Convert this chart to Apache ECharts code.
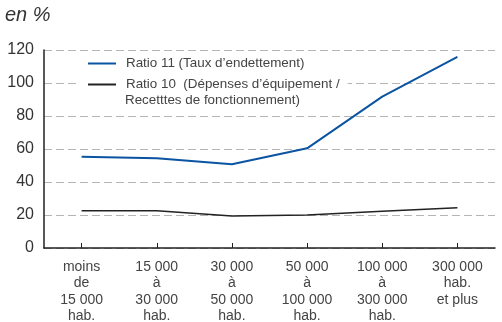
<!DOCTYPE html>
<html>
<head>
<meta charset="utf-8">
<script src="https://cdn.jsdelivr.net/npm/echarts@6/dist/echarts.min.js"></script>
<style>
  html, body { margin: 0; padding: 0; background: #fff; }
  #chart { width: 502px; height: 322px; }
</style>
</head>
<body>
<div id="chart"></div>
<script>
// catégories de communes
const categories = [
  'moins\nde\n15 000\nhab.',
  '15 000\nà\n30 000\nhab.',
  '30 000\nà\n50 000\nhab.',
  '50 000\nà\n100 000\nhab.',
  '100 000\nà\n300 000\nhab.',
  '300 000\nhab.\net plus'
];

// Ratio 11 (Taux d'endettement)
const ratio11 = [55.3, 54.4, 50.7, 60.4, 91.7, 115.9];
// Ratio 10 (Dépenses d'équipement / Recettes de fonctionnement)
const ratio10 = [22.6, 22.6, 19.4, 20.0, 22.2, 24.4];

const yTicks = [0, 20, 40, 60, 80, 100, 120];

const FONT = '"Liberation Sans", Arial, sans-serif';

var myChart = echarts.init(document.getElementById('chart'));
myChart.setOption({
  animation: false,
  textStyle: { fontFamily: FONT },
  title: {
    text: 'en %',
    left: 5,
    top: 5,
    padding: 0,
    textStyle: { fontFamily: FONT, fontStyle: 'italic', fontWeight: 'normal', fontSize: 20, color: '#333' }
  },
  legend: {
    orient: 'vertical',
    left: 80,
    top: 56,
    padding: [1, 8, 18, 7],
    backgroundColor: '#fff',
    itemWidth: 28,
    itemHeight: 14,
    itemGap: 8,
    itemStyle: { opacity: 0 },
    textStyle: { fontFamily: FONT, fontSize: 13.4, color: '#444', padding: [0, 0, 0, 5] },
    data: ['Ratio 11 (Taux d\u2019endettement)', 'Ratio 10  (Dépenses d\u2019équipement /']
  },
  graphic: [{
    type: 'text',
    left: 125,
    top: 94,
    z: 100,
    style: { text: 'Recetttes de fonctionnement)', font: '13.4px ' + FONT, fill: '#444' }
  }],
  grid: { left: 44, right: 7, top: 50, bottom: 74, outerBoundsMode: 'none' },
  xAxis: {
    type: 'category',
    boundaryGap: true,
    data: categories,
    axisLine: { lineStyle: { color: '#222', width: 1.5 } },
    axisTick: { show: true, inside: true, alignWithLabel: true, length: 5, lineStyle: { color: '#222' } },
    axisLabel: { fontSize: 14, color: '#444', lineHeight: 16.4, margin: 11, interval: 0 }
  },
  yAxis: {
    type: 'value',
    min: yTicks[0],
    max: yTicks[yTicks.length - 1],
    interval: 20,
    axisLine: { show: true, lineStyle: { color: '#222', width: 1.5 } },
    axisTick: { show: false },
    axisLabel: { fontSize: 16, color: '#333', margin: 10 },
    splitLine: { lineStyle: { color: '#b5b5b5', type: [8, 4], width: 1 } }
  },
  series: [
    {
      name: 'Ratio 11 (Taux d\u2019endettement)',
      type: 'line',
      data: ratio11,
      symbol: 'none',
      color: '#0a54a2',
      lineStyle: { color: '#0a54a2', width: 2 }
    },
    {
      name: 'Ratio 10  (Dépenses d\u2019équipement /',
      type: 'line',
      data: ratio10,
      symbol: 'none',
      color: '#222',
      lineStyle: { color: '#222', width: 1.5 }
    }
  ]
});
</script>
</body>
</html>
